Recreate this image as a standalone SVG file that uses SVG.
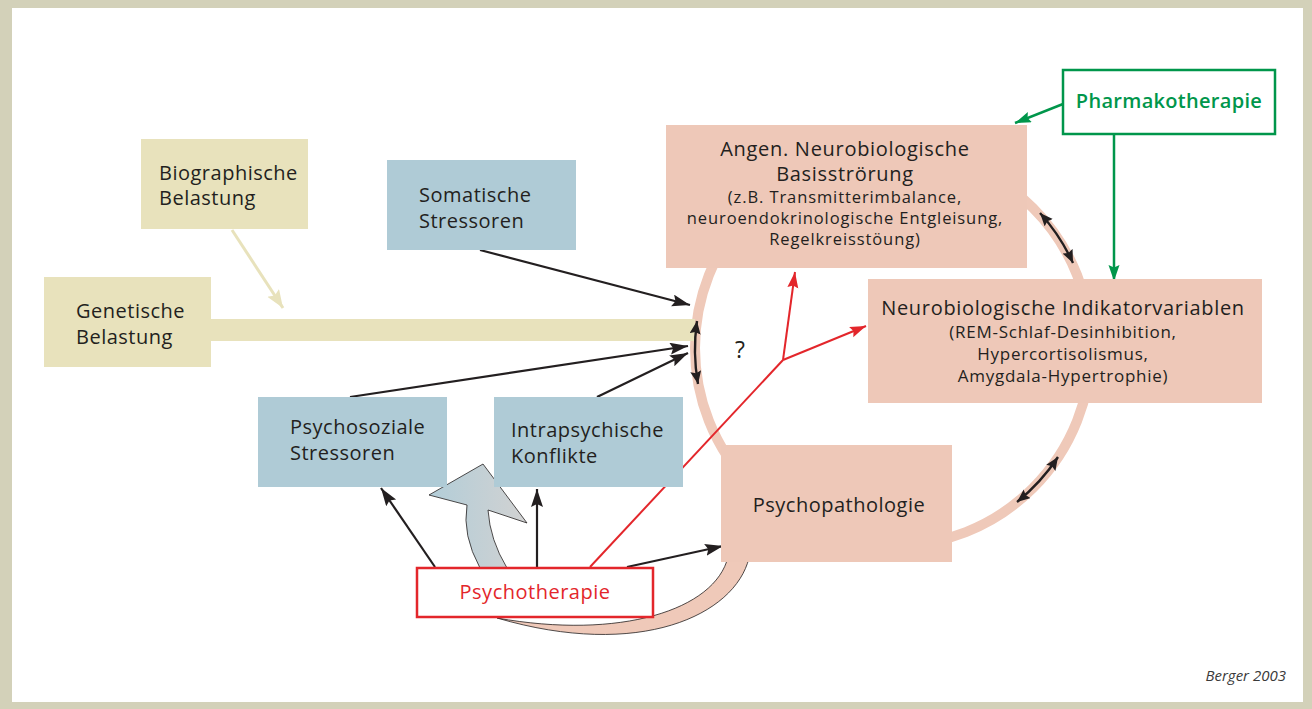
<svg xmlns="http://www.w3.org/2000/svg" width="1312" height="709" viewBox="0 0 1312 709">
<defs>
<style>
.t{font-family:"Open Sans","Noto Sans","Liberation Sans",sans-serif;fill:#231f20}
.big{font-size:20px;letter-spacing:0.5px}
.wide{letter-spacing:0.7px}
.sm{font-size:17px;letter-spacing:0.75px}
.yel{fill:#e8e2bc}
.blu{fill:#afcbd6}
.pnk{fill:#eec8b8}
.blk{stroke:#231f20;stroke-width:2.2;fill:none}
.red{stroke:#e3262b;stroke-width:2;fill:none}
.grn{stroke:#00964b;stroke-width:2.5;fill:none}
.dbl{stroke:#231f20;stroke-width:2.4;fill:none}
</style>
<marker id="ab" markerUnits="userSpaceOnUse" markerWidth="20" markerHeight="14" refX="18" refY="6" orient="auto"><path d="M0,0 L18,6 L0,12 L3,6 z" fill="#231f20"/></marker>
<marker id="ad" markerUnits="userSpaceOnUse" markerWidth="16" markerHeight="12" refX="13" refY="5.5" orient="auto-start-reverse"><path d="M0,0 L13,5.5 L0,11 L2,5.5 z" fill="#231f20"/></marker>
<marker id="ar" markerUnits="userSpaceOnUse" markerWidth="18" markerHeight="14" refX="16" refY="5.5" orient="auto"><path d="M0,0 L16,5.5 L0,11 L2.5,5.5 z" fill="#e3262b"/></marker>
<marker id="ag" markerUnits="userSpaceOnUse" markerWidth="18" markerHeight="14" refX="16" refY="5.5" orient="auto"><path d="M0,0 L16,5.5 L0,11 L2.5,5.5 z" fill="#00964b"/></marker>
<marker id="ay" markerUnits="userSpaceOnUse" markerWidth="20" markerHeight="16" refX="18" refY="7" orient="auto"><path d="M0,0 L18,7 L0,14 L3,7 z" fill="#e8e2bc"/></marker>
<linearGradient id="gg" x1="0" y1="0" x2="1" y2="0"><stop offset="0" stop-color="#b2cdd8"/><stop offset="1" stop-color="#d2d2d2"/></linearGradient>
</defs>
<rect x="0" y="0" width="1312" height="709" fill="#d3d1b9"/>
<rect x="12" y="8" width="1291" height="694" fill="#ffffff"/>
<g id="connectors">
<circle cx="893" cy="348" r="198" fill="none" stroke="#efc9b9" stroke-width="10"/>
<rect x="205" y="319" width="490" height="22" fill="#e8e2bc"/>
<path d="M749,558 C735,615 640,660 497,618 C620,640 715,610 728,557 Z" fill="#efc9b9" stroke="#231f20" stroke-width="0.8"/>
<path d="M480,568 Q462,535 467,505 L429,495 L483,464 L527,523 L488,510 Q490,540 507,568 Z" fill="url(#gg)" stroke="#231f20" stroke-width="0.8"/>
<line x1="232" y1="230" x2="283" y2="308" stroke="#e8e2bc" stroke-width="3" marker-end="url(#ay)"/>
<line x1="480" y1="250" x2="690" y2="305" class="blk" marker-end="url(#ab)"/>
<line x1="350" y1="397" x2="688" y2="346" class="blk" marker-end="url(#ab)"/>
<line x1="597" y1="397" x2="688" y2="353" class="blk" marker-end="url(#ab)"/>
<line x1="435" y1="567" x2="381" y2="488" class="blk" marker-end="url(#ab)"/>
<line x1="537" y1="567" x2="537" y2="489" class="blk" marker-end="url(#ab)"/>
<line x1="627" y1="567" x2="723" y2="546" class="blk" marker-end="url(#ab)"/>
<path d="M697,321 A198,198 0 0 0 698,384" class="dbl" marker-start="url(#ad)" marker-end="url(#ad)"/>
<path d="M1040,213 A198,198 0 0 1 1073,263" class="dbl" marker-start="url(#ad)" marker-end="url(#ad)"/>
<path d="M1058,457 A198,198 0 0 1 1017,502" class="dbl" marker-start="url(#ad)" marker-end="url(#ad)"/>
<polyline points="590,567 783,360" class="red"/>
<line x1="783" y1="360" x2="795" y2="272" class="red" marker-end="url(#ar)"/>
<line x1="783" y1="360" x2="866" y2="326" class="red" marker-end="url(#ar)"/>
<line x1="1063" y1="104" x2="1015" y2="123" class="grn" marker-end="url(#ag)"/>
<line x1="1114" y1="134" x2="1114" y2="281" class="grn" marker-end="url(#ag)"/>
</g>
<g id="biographische">
<rect x="141" y="139" width="167" height="90" class="yel"/>
<text class="t big" x="159" y="180">Biographische</text>
<text class="t big" x="159" y="205">Belastung</text>
</g>
<g id="genetische">
<rect x="44" y="277" width="167" height="90" class="yel"/>
<text class="t big" x="76" y="318">Genetische</text>
<text class="t big" x="76" y="344">Belastung</text>
</g>
<g id="somatische">
<rect x="387" y="160" width="189" height="90" class="blu"/>
<text class="t big" x="419" y="202">Somatische</text>
<text class="t big" x="419" y="228">Stressoren</text>
</g>
<g id="psychosoziale">
<rect x="258" y="397" width="189" height="90" class="blu"/>
<text class="t big" x="290" y="434">Psychosoziale</text>
<text class="t big" x="290" y="460">Stressoren</text>
</g>
<g id="intrapsychische">
<rect x="494" y="397" width="189" height="90" class="blu"/>
<text class="t big" x="511" y="437">Intrapsychische</text>
<text class="t big" x="511" y="463">Konflikte</text>
</g>
<g id="angen">
<rect x="666" y="125" width="361" height="143" class="pnk"/>
<text class="t big wide" x="845" y="156" text-anchor="middle">Angen. Neurobiologische</text>
<text class="t big wide" x="845" y="181" text-anchor="middle">Basisströrung</text>
<text class="t sm" x="845" y="203" text-anchor="middle" style="font-size:16.5px;letter-spacing:0.9px">(z.B. Transmitterimbalance,</text>
<text class="t sm" x="845" y="224" text-anchor="middle" style="font-size:16.5px;letter-spacing:0.9px">neuroendokrinologische Entgleisung,</text>
<text class="t sm" x="845" y="245" text-anchor="middle" style="font-size:16.5px;letter-spacing:0.9px">Regelkreisstöung)</text>
</g>
<g id="indikator">
<rect x="868" y="279" width="394" height="124" class="pnk"/>
<text class="t big wide" x="1063" y="315" text-anchor="middle">Neurobiologische Indikatorvariablen</text>
<text class="t sm" x="1063" y="338" text-anchor="middle">(REM-Schlaf-Desinhibition,</text>
<text class="t sm" x="1063" y="360" text-anchor="middle">Hypercortisolismus,</text>
<text class="t sm" x="1063" y="382" text-anchor="middle">Amygdala-Hypertrophie)</text>
</g>
<g id="psychopathologie">
<rect x="721" y="445" width="231" height="117" class="pnk"/>
<text class="t big" x="839" y="512" text-anchor="middle">Psychopathologie</text>
</g>
<g id="pharmakotherapie">
<rect x="1063" y="70" width="212" height="64" fill="#ffffff" stroke="#00964b" stroke-width="2.5"/>
<text class="t big" x="1169" y="108" text-anchor="middle" style="fill:#00964b;font-weight:600;letter-spacing:0.3px">Pharmakotherapie</text>
</g>
<g id="psychotherapie">
<rect x="417" y="568" width="236" height="49" fill="#ffffff" stroke="#e3262b" stroke-width="2.5"/>
<text class="t big" x="535" y="599" text-anchor="middle" style="fill:#e3262b">Psychotherapie</text>
</g>
<g id="question">
<text class="t" x="740" y="358" text-anchor="middle" font-size="23">?</text>
</g>
<g id="credit">
<text class="t" x="1286" y="681" text-anchor="end" font-size="15" font-style="italic" style="fill:#3a3a3a">Berger 2003</text>
</g>
</svg>
